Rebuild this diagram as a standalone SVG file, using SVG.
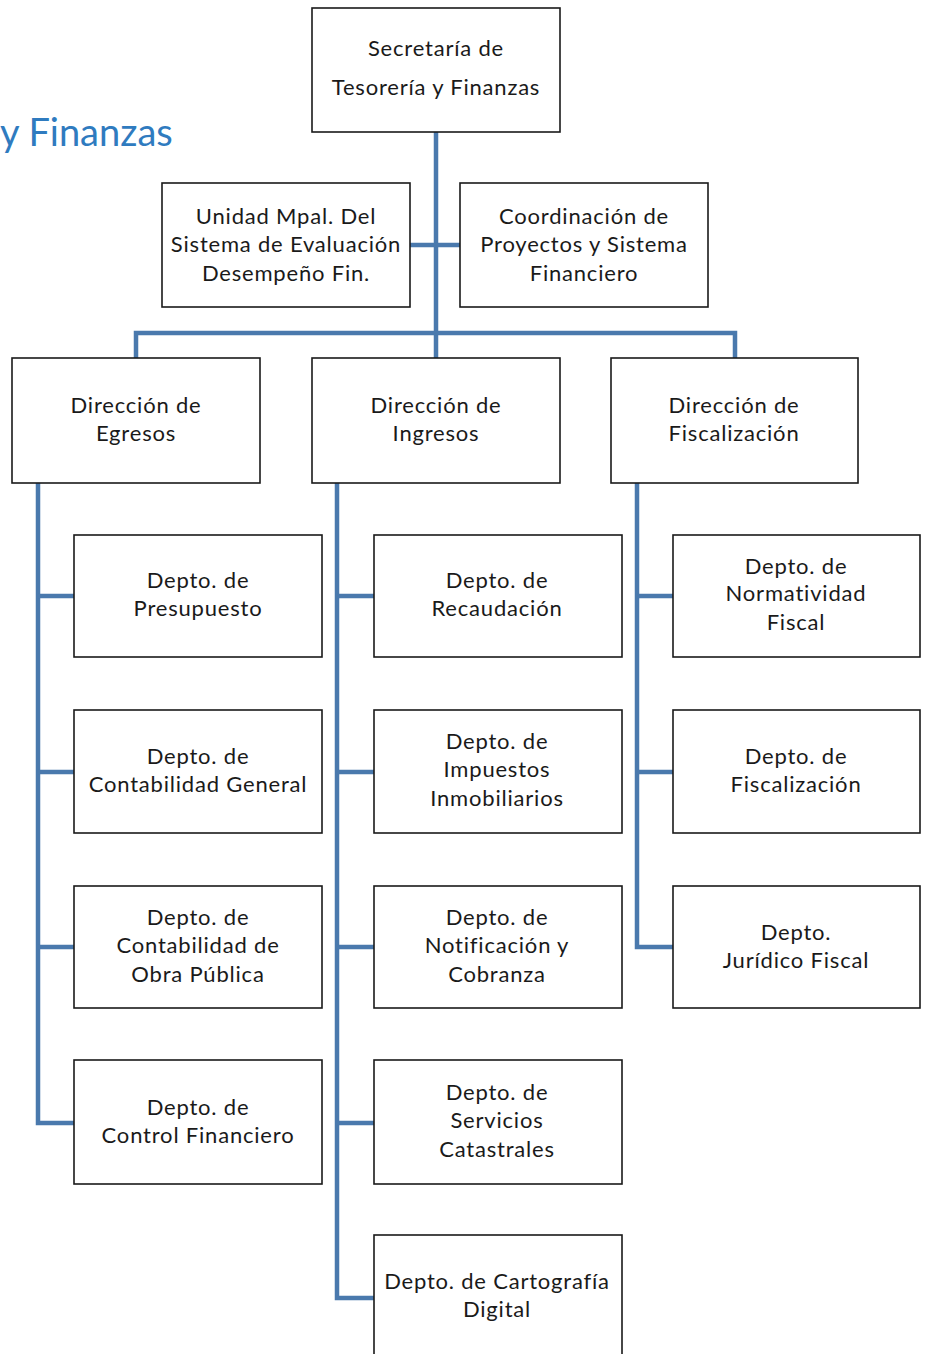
<svg xmlns="http://www.w3.org/2000/svg" width="929" height="1354" viewBox="0 0 929 1354">
<style>
.box{fill:#fff;stroke:#1a1a1a;stroke-width:1.6}
.t{font-family:Lato,"Open Sans","Liberation Sans",sans-serif;font-size:22px;letter-spacing:0.8px;fill:#1a1a1a;text-anchor:middle}
.c{fill:none;stroke:#4a79ad;stroke-width:4.5;stroke-linejoin:miter}
.title{font-family:Lato,"Open Sans","Liberation Sans",sans-serif;font-size:38px;fill:#2f7bbf}
</style>
<rect width="929" height="1354" fill="#fff"/>
<text class="title" x="0" y="146">y Finanzas</text>
<g id="connectors">
<path class="c" d="M436 132V358"/>
<path class="c" d="M410 245H460"/>
<path class="c" d="M136 358V333H735V358"/>
<path class="c" d="M38 483V1123H74"/>
<path class="c" d="M38 596H74M38 772H74M38 947H74"/>
<path class="c" d="M337 483V1298H374"/>
<path class="c" d="M337 596H374M337 772H374M337 947H374M337 1123H374"/>
<path class="c" d="M637 483V947H673"/>
<path class="c" d="M637 596H673M637 772H673"/>
</g>
<g id="n-secretaria"><rect class="box" x="312" y="8" width="248" height="124"/><text class="t" x="436" y="56">Secretaría de</text><text class="t" x="436" y="95">Tesorería y Finanzas</text></g>
<g id="n-unidad"><rect class="box" x="162" y="183" width="248" height="124"/><text class="t" x="286" y="224">Unidad Mpal. Del</text><text class="t" x="286" y="252">Sistema de Evaluación</text><text class="t" x="286" y="281">Desempeño Fin.</text></g>
<g id="n-coordinacion"><rect class="box" x="460" y="183" width="248" height="124"/><text class="t" x="584" y="224">Coordinación de</text><text class="t" x="584" y="252">Proyectos y Sistema</text><text class="t" x="584" y="281">Financiero</text></g>
<g id="n-egresos"><rect class="box" x="12" y="358" width="248" height="125"/><text class="t" x="136" y="413">Dirección de</text><text class="t" x="136" y="441">Egresos</text></g>
<g id="n-ingresos"><rect class="box" x="312" y="358" width="248" height="125"/><text class="t" x="436" y="413">Dirección de</text><text class="t" x="436" y="441">Ingresos</text></g>
<g id="n-fiscalizacion"><rect class="box" x="611" y="358" width="247" height="125"/><text class="t" x="734" y="413">Dirección de</text><text class="t" x="734" y="441">Fiscalización</text></g>
<g id="n-presupuesto"><rect class="box" x="74" y="535" width="248" height="122"/><text class="t" x="198" y="588">Depto. de</text><text class="t" x="198" y="616">Presupuesto</text></g>
<g id="n-contabilidad"><rect class="box" x="74" y="710" width="248" height="123"/><text class="t" x="198" y="764">Depto. de</text><text class="t" x="198" y="792">Contabilidad General</text></g>
<g id="n-obra"><rect class="box" x="74" y="886" width="248" height="122"/><text class="t" x="198" y="925">Depto. de</text><text class="t" x="198" y="953">Contabilidad de</text><text class="t" x="198" y="982">Obra Pública</text></g>
<g id="n-control"><rect class="box" x="74" y="1060" width="248" height="124"/><text class="t" x="198" y="1115">Depto. de</text><text class="t" x="198" y="1143">Control Financiero</text></g>
<g id="n-recaudacion"><rect class="box" x="374" y="535" width="248" height="122"/><text class="t" x="497" y="588">Depto. de</text><text class="t" x="497" y="616">Recaudación</text></g>
<g id="n-impuestos"><rect class="box" x="374" y="710" width="248" height="123"/><text class="t" x="497" y="749">Depto. de</text><text class="t" x="497" y="777">Impuestos</text><text class="t" x="497" y="806">Inmobiliarios</text></g>
<g id="n-notificacion"><rect class="box" x="374" y="886" width="248" height="122"/><text class="t" x="497" y="925">Depto. de</text><text class="t" x="497" y="953">Notificación y</text><text class="t" x="497" y="982">Cobranza</text></g>
<g id="n-catastrales"><rect class="box" x="374" y="1060" width="248" height="124"/><text class="t" x="497" y="1100">Depto. de</text><text class="t" x="497" y="1128">Servicios</text><text class="t" x="497" y="1157">Catastrales</text></g>
<g id="n-cartografia"><rect class="box" x="374" y="1235" width="248" height="130"/><text class="t" x="497" y="1289">Depto. de Cartografía</text><text class="t" x="497" y="1317">Digital</text></g>
<g id="n-normatividad"><rect class="box" x="673" y="535" width="247" height="122"/><text class="t" x="796" y="574">Depto. de</text><text class="t" x="796" y="601">Normatividad</text><text class="t" x="796" y="630">Fiscal</text></g>
<g id="n-fiscalizacion-depto"><rect class="box" x="673" y="710" width="247" height="123"/><text class="t" x="796" y="764">Depto. de</text><text class="t" x="796" y="792">Fiscalización</text></g>
<g id="n-juridico"><rect class="box" x="673" y="886" width="247" height="122"/><text class="t" x="796" y="940">Depto.</text><text class="t" x="796" y="968">Jurídico Fiscal</text></g>
</svg>
